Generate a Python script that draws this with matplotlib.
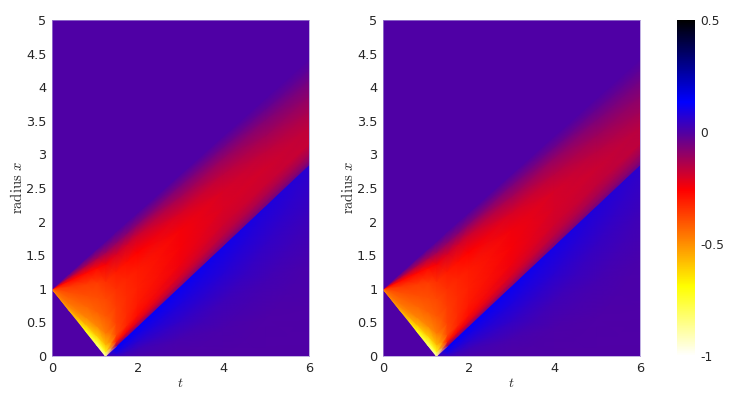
import matplotlib
matplotlib.use("Agg")
import matplotlib.pyplot as plt
import numpy as np
from matplotlib.colors import LinearSegmentedColormap, Normalize

# values, one list per time column
t_cols = [0, 0.4, 0.8, 1.05, 1.25, 1.5, 1.75, 2, 3, 4, 5, 6]
front_x = [1, 0.68, 0.36, 0.16, 0, 0.15, 0.3, 0.45, 1.05, 1.65, 2.25, 2.85]
top_x = [1, 1.23, 1.46, 1.6, 1.71, 1.86, 2, 2.14, 2.71, 3.28, 3.85, 4.42]
fan_levels = [0, 0.04, 0.1, 0.2, 0.35, 0.5, 0.65, 0.8, 0.9, 1]
tail_levels = [0, 0.25, 0.5, 0.75, 1]

fan_left = [
    [-0.45, -0.45, -0.45, -0.44, -0.42, -0.39, -0.35, -0.27, -0.13, 0],
    [-0.55, -0.52, -0.48, -0.45, -0.42, -0.39, -0.35, -0.27, -0.13, 0],
    [-0.72, -0.66, -0.56, -0.48, -0.43, -0.39, -0.36, -0.27, -0.13, 0],
    [-0.82, -0.74, -0.60, -0.49, -0.42, -0.39, -0.36, -0.27, -0.13, 0],
    [-0.92, -0.72, -0.58, -0.47, -0.41, -0.38, -0.34, -0.25, -0.12, 0],
    [-0.10, -0.30, -0.38, -0.37, -0.36, -0.34, -0.30, -0.20, -0.09, 0],
    [-0.10, -0.25, -0.32, -0.33, -0.33, -0.32, -0.28, -0.19, -0.08, 0],
    [-0.10, -0.22, -0.28, -0.30, -0.31, -0.30, -0.26, -0.18, -0.08, 0],
    [-0.10, -0.16, -0.21, -0.24, -0.25, -0.245, -0.20, -0.12, -0.06, 0],
    [-0.07, -0.12, -0.16, -0.19, -0.205, -0.20, -0.16, -0.10, -0.045, 0],
    [-0.06, -0.10, -0.14, -0.18, -0.19, -0.165, -0.12, -0.07, -0.03, 0],
    [-0.05, -0.09, -0.13, -0.175, -0.165, -0.13, -0.09, -0.05, -0.02, 0],
]
fan_right = [
    [-0.45, -0.45, -0.45, -0.44, -0.42, -0.39, -0.35, -0.27, -0.13, 0],
    [-0.55, -0.52, -0.48, -0.45, -0.42, -0.39, -0.35, -0.27, -0.13, 0],
    [-0.72, -0.66, -0.56, -0.48, -0.43, -0.39, -0.36, -0.27, -0.13, 0],
    [-0.82, -0.74, -0.60, -0.49, -0.42, -0.39, -0.36, -0.27, -0.13, 0],
    [-0.92, -0.72, -0.58, -0.47, -0.41, -0.38, -0.34, -0.25, -0.12, 0],
    [-0.10, -0.30, -0.38, -0.37, -0.36, -0.34, -0.30, -0.20, -0.09, 0],
    [-0.10, -0.25, -0.32, -0.33, -0.33, -0.32, -0.28, -0.19, -0.08, 0],
    [-0.10, -0.22, -0.28, -0.30, -0.31, -0.30, -0.26, -0.18, -0.08, 0],
    [-0.10, -0.16, -0.21, -0.24, -0.25, -0.24, -0.20, -0.12, -0.06, 0],
    [-0.07, -0.12, -0.16, -0.19, -0.20, -0.195, -0.155, -0.095, -0.04, 0],
    [-0.06, -0.10, -0.135, -0.17, -0.18, -0.155, -0.115, -0.065, -0.03, 0],
    [-0.05, -0.085, -0.12, -0.165, -0.155, -0.12, -0.085, -0.045, -0.02, 0],
]
tail_left = [
    [0, 0, 0, 0, 0],
    [0, 0, 0, 0, 0],
    [0, 0, 0, 0, 0],
    [0, 0, 0, 0, 0],
    [0, 0, 0, 0, 0],
    [0.03, 0.07, 0.10, 0.12, 0.14],
    [0.015, 0.045, 0.08, 0.11, 0.135],
    [0.008, 0.03, 0.065, 0.10, 0.13],
    [0, 0.015, 0.05, 0.085, 0.12],
    [0, 0.008, 0.03, 0.07, 0.105],
    [0, 0.004, 0.02, 0.05, 0.085],
    [0, 0.002, 0.012, 0.035, 0.065],
]
tail_right = [
    [0, 0, 0, 0, 0],
    [0, 0, 0, 0, 0],
    [0, 0, 0, 0, 0],
    [0, 0, 0, 0, 0],
    [0, 0, 0, 0, 0],
    [0.03, 0.07, 0.10, 0.12, 0.14],
    [0.015, 0.045, 0.08, 0.11, 0.135],
    [0.008, 0.03, 0.065, 0.10, 0.13],
    [0, 0.015, 0.05, 0.085, 0.118],
    [0, 0.007, 0.028, 0.065, 0.10],
    [0, 0.003, 0.018, 0.045, 0.08],
    [0, 0.002, 0.01, 0.03, 0.06],
]
y_ticks = [0, 0.5, 1, 1.5, 2, 2.5, 3, 3.5, 4, 4.5, 5]
y_labels = ["0", "0.5", "1", "1.5", "2", "2.5", "3", "3.5", "4", "4.5", "5"]
bar_ticks = [-1, -0.5, 0, 0.5]
bar_labels = ["-1", "-0.5", "0", "0.5"]

plt.rcParams["mathtext.fontset"] = "cm"
text_col = "#262626"
edge_col = "#a78fd6"

vmin, vmax = -1, 0.5
anchors = [(-1, "#ffffff"), (-0.69, "#ffff00"), (-0.26, "#ff0000"),
           (0, "#5000a4"), (0.134, "#0000ff"), (0.5, "#000000")]
cmap = LinearSegmentedColormap.from_list(
    "fan", [((v - vmin) / (vmax - vmin), c) for v, c in anchors], N=512
)
norm = Normalize(vmin, vmax)


def field(fan, tail):
    front = np.array(front_x)
    top = np.array(top_x)
    # rows: x=0 up to the front, then front up to the fan edge, then x=5
    rows_x = [front * s for s in tail_levels]
    rows_x += [front + (top - front) * s for s in fan_levels]
    rows_x.append(np.full(len(t_cols), 5.0))
    yy = np.array(rows_x)
    tt = np.tile(np.array(t_cols, dtype=float), (yy.shape[0], 1))
    cc = np.hstack([np.array(tail), np.array(fan), np.zeros((len(t_cols), 1))]).T
    return tt, yy, cc


fig = plt.figure(figsize=(7.36, 3.96), dpi=100)

for left, fan, tail in [(52, fan_left, tail_left), (383, fan_right, tail_right)]:
    ax = fig.add_axes([left / 736, 40 / 396, 257 / 736, 336 / 396])
    tt, yy, cc = field(fan, tail)
    ax.pcolormesh(tt, yy, cc, cmap=cmap, norm=norm, shading="gouraud")
    ax.set_xlim(0, 6)
    ax.set_ylim(0, 5)
    ax.set_xticks([0, 2, 4, 6])
    ax.set_yticks(y_ticks)
    ax.set_yticklabels(y_labels)
    ax.tick_params(length=0, pad=4, labelsize=9.3, colors=text_col)
    ax.set_xlabel(r"$t$", fontsize=10, color=text_col, labelpad=1)
    ax.set_ylabel(r"$\mathrm{radius}\ x$", fontsize=10.5, color=text_col, labelpad=1)
    for s in ax.spines.values():
        s.set_color(edge_col)
        s.set_linewidth(0.5)

cax = fig.add_axes([677 / 736, 40 / 396, 18 / 736, 336 / 396])
cb = fig.colorbar(plt.cm.ScalarMappable(norm=norm, cmap=cmap), cax=cax)
cb.set_ticks(bar_ticks)
cb.set_ticklabels(bar_labels)
cb.ax.tick_params(length=0, pad=4, labelsize=8.8, colors=text_col)
cb.outline.set_visible(False)

fig.savefig("out.png", dpi=100)
